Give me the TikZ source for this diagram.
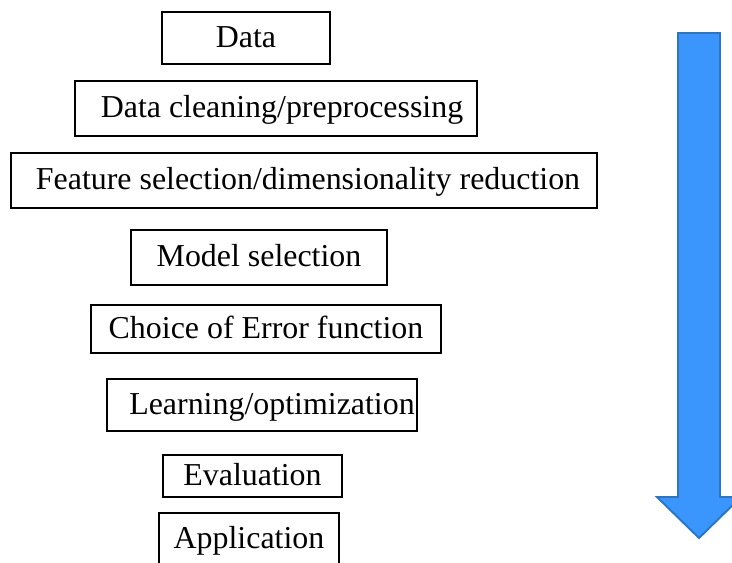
\documentclass[tikz,border=0pt]{standalone}
\usepackage{fontspec}
\setmainfont{Liberation Serif}
\usetikzlibrary{positioning,calc}
\definecolor{arrowfill}{RGB}{58,150,252}
\definecolor{arrowline}{RGB}{46,117,190}
\tikzset{
stepbox/.style={rectangle, draw=black, line width=0.8pt, inner sep=0pt,
                text height=17.5pt, text depth=4.5pt,
                font=\fontsize{22.7}{27}\selectfont},
bigarrow/.style={fill=arrowfill, draw=arrowline, line width=1.4pt, line join=miter}
}
\begin{document}
\begin{tikzpicture}
\useasboundingbox (0,0) rectangle (18.3,-14.05);

%Pipeline steps
\node[stepbox, minimum width=4.2cm, minimum height=1.3cm] (data) at(6.15,-0.95) {Data};
\node[stepbox, minimum width=10.05cm, minimum height=1.375cm] (cleaning) at(6.9,-2.7125) {\hspace*{0.3cm}Data cleaning/preprocessing};
\node[stepbox, minimum width=14.65cm, minimum height=1.375cm] (feature) at(7.6,-4.5125) {\hspace*{0.2cm}Feature selection/dimensionality reduction};
\node[stepbox, minimum width=6.4cm, minimum height=1.375cm] (model) at(6.475,-6.4375) {Model selection};
\node[stepbox, minimum width=8.75cm, minimum height=1.2cm] (error) at(6.65,-8.225) {Choice of Error function};
\node[stepbox, minimum width=7.75cm, minimum height=1.3cm] (learning) at(6.55,-10.125) {\hspace*{0.5cm}Learning/optimization};
\node[stepbox, minimum width=4.475cm, minimum height=1.05cm] (evaluation) at(6.3125,-11.9) {Evaluation};
\node[stepbox, minimum width=4.5cm, minimum height=1.325cm] (application) at(6.225,-13.4875) {Application};

%Down arrow
\draw[bigarrow] (16.95,-0.825) -- (18,-0.825) -- (18,-12.425) -- (18.525,-12.425)
  -- (17.475,-13.45) -- (16.425,-12.425) -- (16.95,-12.425) -- cycle;
\end{tikzpicture}
\end{document}
